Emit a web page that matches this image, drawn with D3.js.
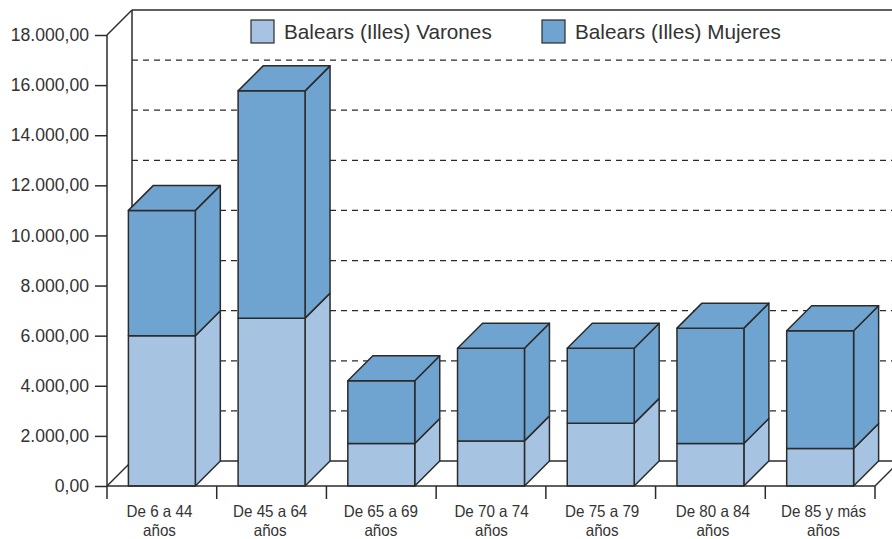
<!DOCTYPE html>
<html><head><meta charset="utf-8">
<script src="https://cdn.jsdelivr.net/npm/d3@7"></script>
<style>html,body{margin:0;padding:0;background:#fff}svg{display:block}text{font-family:"Liberation Sans",Arial,sans-serif;fill:#333}</style>
</head><body><div id="c"></div>
<script>
const categories=["De 6 a 44|años","De 45 a 64|años","De 65 a 69|años","De 70 a 74|años","De 75 a 79|años","De 80 a 84|años","De 85 y más|años"];
const varones=[6000,6700,1700,1800,2500,1700,1500];
const mujeres=[5000,9070,2500,3700,3000,4600,4700];
const seriesNames=["Balears (Illes) Varones","Balears (Illes) Mujeres"];
const colors=["#a6c3e2","#6fa3d0"];
const yTicks=d3.range(0,18001,2000);
const W=892,H=539,ink="#2b2b2b";
const x0=107,x1=875,yB=486,yT=35,d=25;
const svg=d3.select("#c").append("svg").attr("width",W).attr("height",H);
const y=d3.scaleLinear().domain([0,18000]).range([yB,yT]);
const x=d3.scaleBand().domain(categories).range([x0,x1]).paddingInner(0.39).paddingOuter(0.195);
const labelX=d3.scaleLinear().domain([0,6]).range([159.5,823.5]);
const fmt=v=>d3.format(",.2f")(v).replace(/,/g,"#").replace(".",",").replace(/#/g,".");
const line=(g,a,b,c,e)=>g.append("line").attr("x1",a).attr("y1",b).attr("x2",c).attr("y2",e);
// wall and floor
const wall=svg.append("g").attr("stroke",ink).attr("stroke-width",1.5).attr("fill","none");
yTicks.slice(1,-1).forEach(v=>line(wall,x0+d,y(v)-d,W,y(v)-d).attr("stroke-dasharray","6 5").attr("stroke-width",1.2));
line(wall,x0+d,yT-d,W,yT-d);
line(wall,x0+d,yB-d,W,yB-d);
line(wall,x0+d,yT-d,x0+d,yB-d);
line(wall,x0,yT,x0+d,yT-d);
line(wall,x0,yB,x0+d,yB-d);
line(wall,x1,yB,x1+d,yB-d);
// bars
const stack=d3.stack().keys([0,1]).value((i,k)=>(k===0?varones:mujeres)[i])(d3.range(categories.length));
const bars=svg.append("g").attr("stroke",ink).attr("stroke-width",1.5).attr("stroke-linejoin","round");
categories.forEach((c,i)=>{
  const l=x(c),r=l+x.bandwidth();
  stack.forEach((s,k)=>{
    const b=y(s[i][0]),t=y(s[i][1]);
    bars.append("path").attr("fill",colors[k]).attr("d",`M${r},${b}L${r+d},${b-d}L${r+d},${t-d}L${r},${t}Z`);
    bars.append("rect").attr("fill",colors[k]).attr("x",l).attr("y",t).attr("width",r-l).attr("height",b-t);
    if(k===1)bars.append("path").attr("fill",colors[k]).attr("d",`M${l},${t}L${l+d},${t-d}L${r+d},${t-d}L${r},${t}Z`);
  });
});
// axes
const yAxis=svg.append("g").attr("transform",`translate(${x0},0)`).call(d3.axisLeft(y).tickValues(yTicks).tickFormat(fmt).tickSize(12).tickPadding(6));
yAxis.selectAll("text").style("font-size","17.6px");
yAxis.selectAll("line,path").attr("stroke",ink).attr("stroke-width",1.5);
yAxis.select("path").attr("d",`M0,${yT}V${yB}`);
const base=svg.append("g").attr("stroke",ink).attr("stroke-width",1.5);
line(base,x0,yB,x1,yB);
d3.range(categories.length+1).forEach(i=>{const t=x0+(x1-x0)*i/categories.length;line(base,t,yB,t,yB+13);});
categories.forEach((c,i)=>{
  c.split("|").forEach((s,j)=>{
    svg.append("text").attr("transform",`translate(${labelX(i)},${yB+31+j*19}) scale(0.92,1)`).attr("text-anchor","middle").style("font-size","16.5px").text(s);
  });
});
// legend
const legX=[251,542];
seriesNames.forEach((n,i)=>{
  svg.append("rect").attr("x",legX[i]).attr("y",20).attr("width",23).attr("height",23).attr("fill",colors[i]).attr("stroke",ink).attr("stroke-width",1.2);
  svg.append("text").attr("x",legX[i]+33).attr("y",38.5).style("font-size","20.7px").text(n);
});
</script></body></html>
